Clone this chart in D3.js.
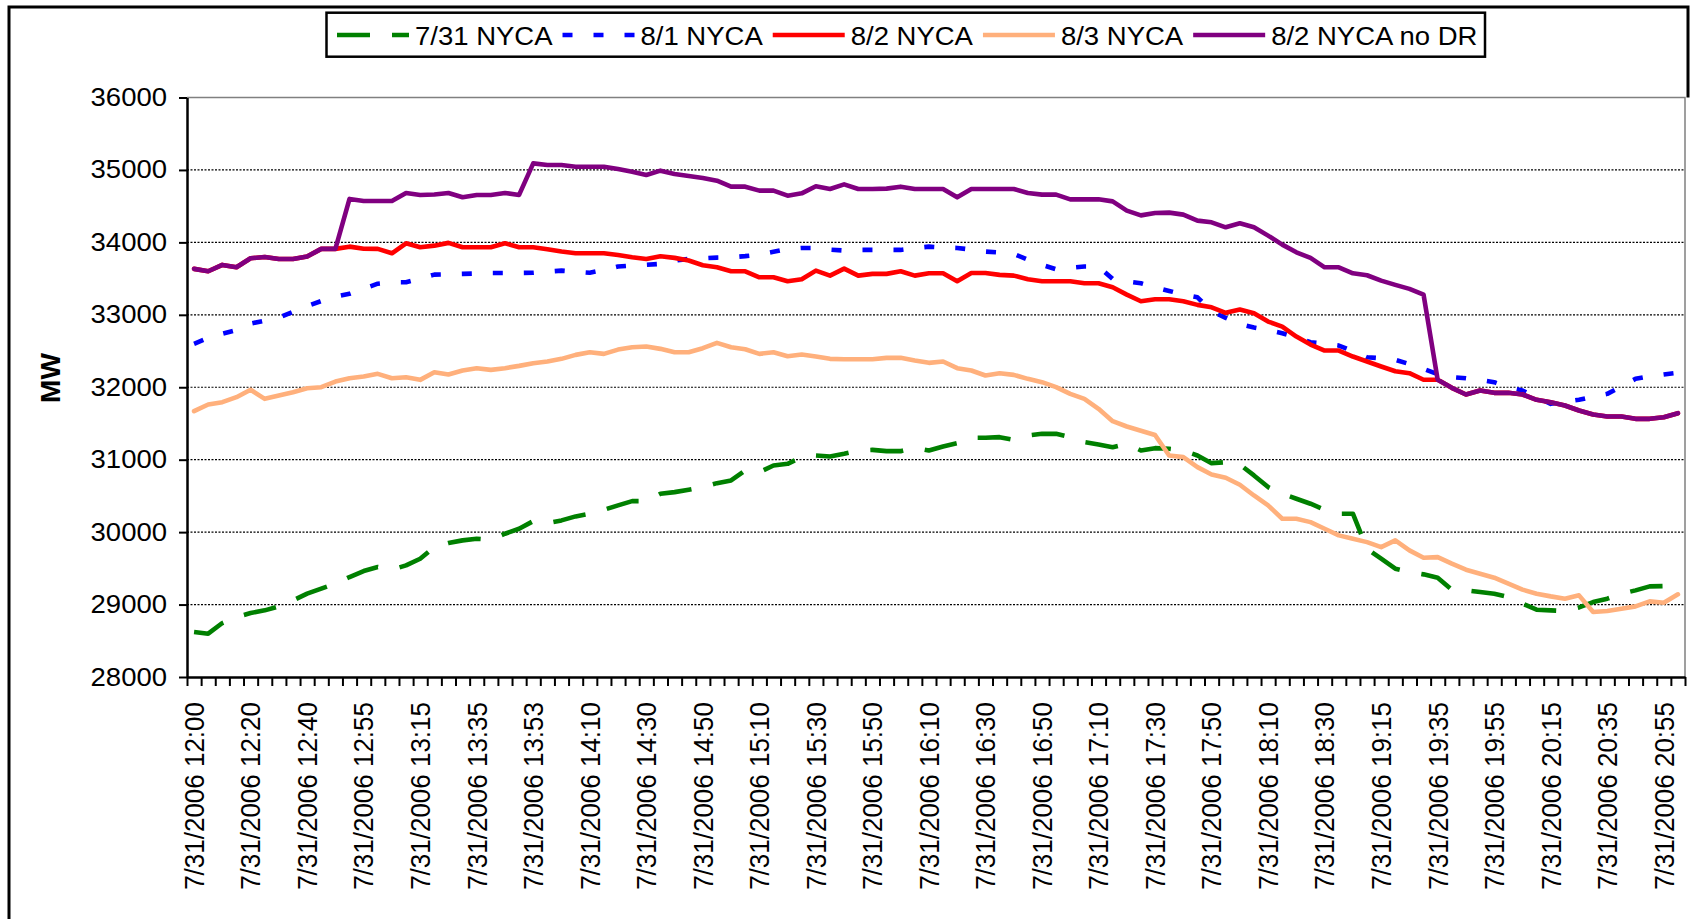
<!DOCTYPE html>
<html>
<head>
<meta charset="utf-8">
<script src="https://cdn.jsdelivr.net/npm/d3@7/dist/d3.min.js"></script>
<style>
  body { margin: 0; background: #fff; }
  svg { display: block; font-family: "Liberation Sans", Arial, sans-serif; }
</style>
</head>
<body>
<script>
const w = 1706;
const h = 919;

// category times (only every 4th one is labelled on the axis)
const times = [
  "12:00","12:05","12:10","12:15","12:20","12:25","12:30","12:35","12:40","12:44",
  "12:48","12:52","12:55","13:00","13:05","13:10","13:15","13:20","13:25","13:30",
  "13:35","13:40","13:45","13:50","13:53","13:55","14:00","14:05","14:10","14:15",
  "14:20","14:25","14:30","14:35","14:40","14:45","14:50","14:55","15:00","15:05",
  "15:10","15:15","15:20","15:25","15:30","15:35","15:40","15:45","15:50","15:55",
  "16:00","16:05","16:10","16:15","16:20","16:25","16:30","16:35","16:40","16:45",
  "16:50","16:55","17:00","17:05","17:10","17:15","17:20","17:25","17:30","17:35",
  "17:40","17:45","17:50","17:55","18:00","18:05","18:10","18:15","18:20","18:25",
  "18:30","18:35","18:40","19:10","19:15","19:20","19:25","19:30","19:35","19:40",
  "19:45","19:50","19:55","20:00","20:05","20:10","20:15","20:20","20:25","20:30",
  "20:35","20:40","20:45","20:50","20:55","21:00"
];
const datePrefix = "7/31/2006";
const labelEvery = 4;

const yTicks = [28000, 29000, 30000, 31000, 32000, 33000, 34000, 35000, 36000];
const gridValues = [29000, 30000, 31000, 32000, 33000, 34000, 35000];

const seriesNames = ["7/31 NYCA", "8/1 NYCA", "8/2 NYCA", "8/3 NYCA", "8/2 NYCA no DR"];
const seriesColors = ["#008000", "#0000FF", "#FF0000", "#FFB07C", "#800080"];
const seriesDash = ["33,22", "10,21", null, null, null];

const jul31 = [
  28621,28598,28745,28828,28883,28920,28975,29058,29150,29219,
  29288,29380,29463,29518,29482,29541,29633,29793,29849,29886,
  29909,29895,29978,30047,30152,30124,30162,30217,30254,30309,
  30369,30428,30428,30530,30552,30585,30622,30676,30714,30852,
  30828,30920,30943,31035,31058,31045,31082,31127,31136,31118,
  31118,31164,31127,31183,31228,31303,31303,31311,31275,31334,
  31357,31357,31311,31242,31210,31173,31220,31127,31159,31150,
  31127,31058,30952,30966,30934,30783,30622,30530,30461,30392,
  30309,30254,30254,29771,29633,29495,29449,29417,29371,29206,
  29196,29173,29150,29104,29012,28929,28920,28911,28960,29035,
  29081,29150,29196,29251,29255,29233
];
const aug1 = [
  32600,32680,32740,32790,32880,32920,32960,33040,33120,33190,
  33250,33290,33360,33430,33450,33450,33500,33555,33560,33565,
  33570,33578,33578,33578,33580,33595,33610,33595,33580,33620,
  33666,33680,33690,33703,33750,33771,33780,33790,33794,33810,
  33831,33870,33910,33923,33923,33900,33887,33896,33896,33896,
  33896,33920,33941,33930,33923,33900,33873,33860,33841,33760,
  33690,33629,33650,33666,33666,33496,33460,33435,33380,33330,
  33280,33242,33050,32958,32870,32824,32790,32746,32690,32622,
  32600,32576,32500,32414,32400,32378,32320,32254,32180,32140,
  32125,32100,32070,32000,31955,31860,31771,31800,31827,31870,
  31909,32010,32116,32150,32176,32200
];
const aug2 = [
  33634,33601,33689,33656,33780,33799,33771,33771,33804,33910,
  33910,33941,33912,33910,33849,33987,33932,33955,33993,33932,
  33932,33932,33987,33932,33932,33905,33873,33849,33849,33849,
  33826,33794,33771,33808,33786,33749,33684,33656,33601,33601,
  33518,33518,33463,33490,33610,33541,33638,33541,33565,33565,
  33601,33541,33573,33573,33463,33577,33577,33551,33541,33490,
  33463,33463,33463,33435,33435,33380,33279,33187,33215,33215,
  33187,33137,33104,33027,33072,33022,32907,32838,32700,32590,
  32507,32507,32424,32355,32286,32221,32194,32103,32103,31992,
  31900,31955,31923,31923,31900,31827,31794,31748,31679,31624,
  31596,31596,31564,31564,31587,31642
];
const aug3 = [
  31670,31762,31794,31863,31965,31840,31886,31932,31987,32001,
  32079,32125,32148,32185,32125,32139,32102,32208,32176,32231,
  32263,32240,32263,32295,32332,32355,32392,32447,32483,32461,
  32520,32552,32562,32530,32483,32483,32539,32613,32552,32525,
  32461,32483,32428,32451,32424,32392,32387,32387,32387,32406,
  32406,32369,32337,32355,32263,32231,32162,32194,32171,32116,
  32070,32001,31909,31840,31702,31532,31458,31400,31340,31058,
  31035,30897,30796,30751,30654,30506,30369,30185,30185,30138,
  30047,29955,29909,29862,29793,29886,29748,29647,29655,29564,
  29481,29426,29371,29288,29206,29150,29113,29081,29127,28897,
  28911,28943,28975,29044,29026,29141
];
const aug2NoDR = [
  33634,33601,33689,33656,33780,33799,33771,33771,33804,33910,
  33910,34600,34572,34572,34572,34682,34655,34660,34682,34622,
  34655,34655,34682,34655,35091,35068,35068,35045,35045,35045,
  35013,34976,34930,34990,34944,34917,34889,34852,34769,34769,
  34714,34714,34645,34677,34774,34737,34801,34737,34737,34742,
  34769,34737,34737,34737,34622,34737,34737,34737,34737,34682,
  34659,34659,34594,34594,34594,34566,34438,34373,34405,34411,
  34383,34300,34277,34208,34263,34208,34093,33969,33863,33786,
  33656,33656,33573,33546,33472,33413,33358,33279,32103,31992,
  31900,31955,31923,31923,31900,31827,31794,31748,31679,31624,
  31596,31596,31564,31564,31587,31642
];

const seriesValues = [jul31, aug1, aug2, aug3, aug2NoDR];

const plotLeft = 187;
const plotRight = 1685;
const plotTop = 97.5;
const plotBottom = 677;
const textStretch = 1.1;

const svg = d3.select("body").append("svg").attr("width", w).attr("height", h);

// outer chart border
svg.append("path")
  .attr("d", "M9,940 L9,7 L1688,7 L1688," + plotTop)
  .attr("fill", "none")
  .attr("stroke", "#000")
  .attr("stroke-width", 3);

const xScale = d3.scaleBand()
  .domain(d3.range(times.length))
  .range([plotLeft, plotRight]);

const xEdges = d3.scaleLinear()
  .domain([0, times.length])
  .range([plotLeft, plotRight]);

const yScale = d3.scaleLinear()
  .domain([28000, 36000])
  .range([plotBottom, plotTop]);

// gridlines
svg.append("g")
  .selectAll("line")
  .data(gridValues)
  .enter()
  .append("line")
  .attr("x1", plotLeft)
  .attr("x2", plotRight)
  .attr("y1", d => yScale(d))
  .attr("y2", d => yScale(d))
  .attr("stroke", "#000")
  .attr("stroke-width", 1.2)
  .attr("stroke-dasharray", "2,1.5");

// plot border top and right
svg.append("path")
  .attr("d", "M" + plotLeft + "," + yScale(36000) + " L" + plotRight + "," + yScale(36000) + " L" + plotRight + "," + plotBottom)
  .attr("fill", "none")
  .attr("stroke", "#808080")
  .attr("stroke-width", 1.5);

// lines
const line = d3.line()
  .x((d, i) => xScale(i) + xScale.bandwidth() / 2)
  .y(d => yScale(d))
  .curve(d3.curveLinear);

seriesValues.forEach(function (values, k) {
  const p = svg.append("path")
    .datum(values)
    .attr("d", line)
    .attr("fill", "none")
    .attr("stroke", seriesColors[k])
    .attr("stroke-width", 4.6)
    .attr("stroke-linejoin", "round");
  if (seriesDash[k]) {
    p.attr("stroke-dasharray", seriesDash[k]).attr("stroke-linecap", "butt");
  } else {
    p.attr("stroke-linecap", "round");
  }
});

// y axis
const yAxis = d3.axisLeft(yScale)
  .tickValues(yTicks)
  .tickFormat(d3.format("d"))
  .tickSize(8)
  .tickSizeOuter(0)
  .tickPadding(12);

const yAxisG = svg.append("g")
  .attr("transform", "translate(" + plotLeft + ",0)")
  .call(yAxis);

yAxisG.select(".domain").attr("stroke", "#000").attr("stroke-width", 2.5);
yAxisG.selectAll(".tick line").attr("stroke", "#000").attr("stroke-width", 2);
yAxisG.selectAll(".tick text")
  .attr("font-size", 25)
  .attr("fill", "#000")
  .attr("font-family", "'Liberation Sans', Arial, sans-serif")
  .attr("x", -20 / textStretch)
  .attr("transform", "scale(" + textStretch + ",1)");

// x axis: ticks on category edges
const xAxis = d3.axisBottom(xEdges)
  .tickValues(d3.range(times.length + 1))
  .tickSize(9)
  .tickSizeOuter(0)
  .tickFormat("");

const xAxisG = svg.append("g")
  .attr("transform", "translate(0," + plotBottom + ")")
  .call(xAxis);

xAxisG.select(".domain").attr("stroke", "#000").attr("stroke-width", 2.5);
xAxisG.selectAll(".tick line").attr("stroke", "#000").attr("stroke-width", 2);

// x labels, rotated
svg.append("g")
  .selectAll("text")
  .data(times.map((t, i) => i).filter(i => i % labelEvery === 0))
  .enter()
  .append("text")
  .attr("transform", d => "translate(" + (xScale(d) + xScale.bandwidth() / 2) + ",702) scale(1.05,1) rotate(-90)")
  .attr("text-anchor", "end")
  .attr("dy", "0.36em")
  .attr("font-size", 26)
  .attr("fill", "#000")
  .text(d => datePrefix + " " + times[d]);

// y axis title
svg.append("text")
  .attr("transform", "translate(50," + 378 + ") rotate(-90)")
  .attr("text-anchor", "middle")
  .attr("dy", "0.36em")
  .attr("font-size", 28)
  .attr("font-weight", "bold")
  .text("MW");

// legend
const legend = svg.append("g").attr("class", "legend");
legend.append("rect")
  .attr("x", 326.5)
  .attr("y", 12.7)
  .attr("width", 1158.5)
  .attr("height", 44)
  .attr("fill", "#fff")
  .attr("stroke", "#000")
  .attr("stroke-width", 2.5);

let lx = 337;
const ly = 35;
seriesNames.forEach(function (name, k) {
  const s = legend.append("line")
    .attr("x1", lx)
    .attr("x2", lx + 72)
    .attr("y1", ly)
    .attr("y2", ly)
    .attr("stroke", seriesColors[k])
    .attr("stroke-width", 4.6);
  if (seriesDash[k]) s.attr("stroke-dasharray", seriesDash[k]);
  const tx = lx + 78;
  const t = legend.append("text")
    .attr("x", 0)
    .attr("y", 0)
    .attr("transform", "translate(" + tx + ",45) scale(" + textStretch + ",1)")
    .attr("font-size", 25)
    .attr("fill", "#000")
    .text(name);
  lx = tx + t.node().getComputedTextLength() * textStretch + 10;
});
</script>
</body>
</html>
